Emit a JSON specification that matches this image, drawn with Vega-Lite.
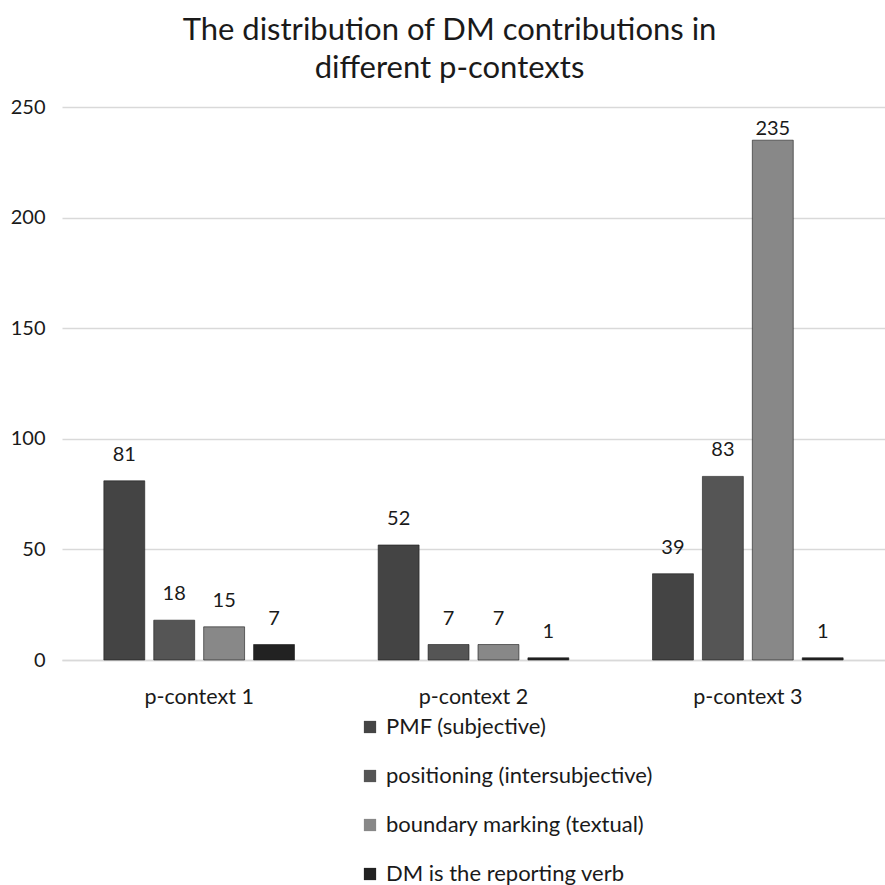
{
  "$schema": "https://vega.github.io/schema/vega-lite/v6.json",
  "width": 823,
  "height": 553,
  "autosize": {"type": "none"},
  "padding": {"left": 62, "top": 107, "right": 0, "bottom": 225},
  "background": "white",
  "title": {
    "text": ["The distribution of DM contributions in", "different p-contexts"],
    "font": "Lato",
    "fontSize": 31,
    "fontWeight": "normal",
    "color": "#1a1a1a",
    "anchor": "middle",
    "dx": -24,
    "offset": 12,
    "lineHeight": 38
  },
  "config": {
    "view": {"stroke": null},
    "font": "Lato"
  },
  "data": {
    "values": [
      {"context": "p-context 1", "category": "PMF (subjective)", "count": 81},
      {"context": "p-context 1", "category": "positioning (intersubjective)", "count": 18},
      {"context": "p-context 1", "category": "boundary marking (textual)", "count": 15},
      {"context": "p-context 1", "category": "DM is the reporting verb", "count": 7},
      {"context": "p-context 2", "category": "PMF (subjective)", "count": 52},
      {"context": "p-context 2", "category": "positioning (intersubjective)", "count": 7},
      {"context": "p-context 2", "category": "boundary marking (textual)", "count": 7},
      {"context": "p-context 2", "category": "DM is the reporting verb", "count": 1},
      {"context": "p-context 3", "category": "PMF (subjective)", "count": 39},
      {"context": "p-context 3", "category": "positioning (intersubjective)", "count": 83},
      {"context": "p-context 3", "category": "boundary marking (textual)", "count": 235},
      {"context": "p-context 3", "category": "DM is the reporting verb", "count": 1}
    ]
  },
  "encoding": {
    "x": {
      "field": "context",
      "type": "nominal",
      "scale": {"paddingInner": 0.305, "paddingOuter": 0.1525},
      "axis": {
        "title": null,
        "labelAngle": 0,
        "labelFont": "Lato",
        "labelFontSize": 21.5,
        "labelColor": "#1a1a1a",
        "labelPadding": 26,
        "ticks": false,
        "domainColor": "#d9d9d9",
        "domainWidth": 1.5
      }
    },
    "xOffset": {
      "field": "category",
      "type": "nominal",
      "sort": ["PMF (subjective)", "positioning (intersubjective)", "boundary marking (textual)", "DM is the reporting verb"],
      "scale": {"paddingInner": 0.18, "paddingOuter": 0}
    },
    "y": {
      "field": "count",
      "type": "quantitative",
      "scale": {"domain": [0, 250]},
      "axis": {
        "title": null,
        "values": [0, 50, 100, 150, 200, 250],
        "labelFont": "Lato",
        "labelFontSize": 20,
        "labelColor": "#1a1a1a",
        "labelPadding": 17,
        "ticks": false,
        "domain": false,
        "gridColor": "#d9d9d9",
        "gridWidth": 1.5
      }
    }
  },
  "layer": [
    {
      "mark": {"type": "bar", "stroke": "#1a1a1a", "strokeWidth": 1, "strokeOpacity": 0.6},
      "encoding": {
        "fill": {
          "field": "category",
          "type": "nominal",
          "sort": ["PMF (subjective)", "positioning (intersubjective)", "boundary marking (textual)", "DM is the reporting verb"],
          "scale": {
            "domain": ["PMF (subjective)", "positioning (intersubjective)", "boundary marking (textual)", "DM is the reporting verb"],
            "range": ["#444444", "#555555", "#888888", "#222222"]
          },
          "legend": {
            "title": null,
            "orient": "none",
            "legendX": 297,
            "legendY": 609,
            "direction": "vertical",
            "symbolType": "square",
            "symbolSize": 150,
            "symbolStrokeWidth": 0,
            "labelFont": "Lato",
            "labelFontSize": 22,
            "labelColor": "#1a1a1a",
            "labelLimit": 400,
            "labelOffset": 5,
            "rowPadding": 27
          }
        }
      }
    },
    {
      "mark": {
        "type": "text",
        "baseline": "middle",
        "align": "center",
        "dy": {"expr": "datum.count > 220 ? -11 : -26"},
        "fontSize": 20,
        "font": "Lato",
        "color": "#1a1a1a"
      },
      "encoding": {
        "text": {"field": "count", "type": "quantitative"}
      }
    }
  ]
}
